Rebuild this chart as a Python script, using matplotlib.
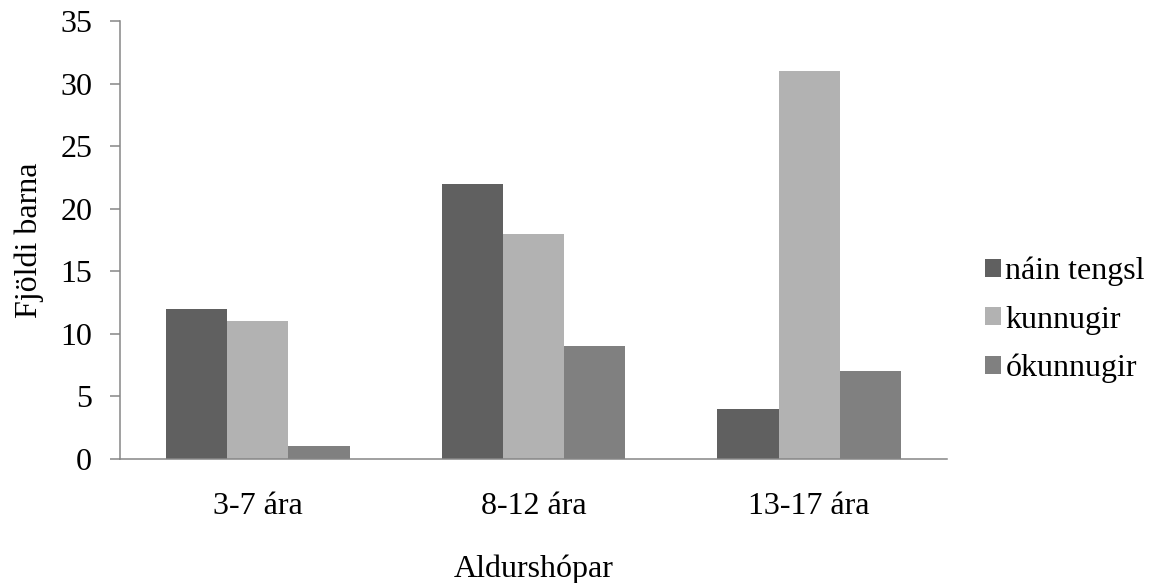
import matplotlib.pyplot as plt
import numpy as np

plt.rcParams['font.family'] = ['Liberation Serif', 'DejaVu Serif']

groups = ['3-7 ára', '8-12 ára', '13-17 ára']
series_names = ['náin tengsl', 'kunnugir', 'ókunnugir']
nain_tengsl = [12, 22, 4]
kunnugir = [11, 18, 31]
okunnugir = [1, 9, 7]
colors = ['#606060', '#b2b2b2', '#808080']

fig = plt.figure(figsize=(11.56, 5.83), dpi=100)
ax = fig.add_axes([0.1038, 0.2127, 0.7154, 0.7513])

x = np.arange(len(groups))
w = 0.222
for i, (vals, name) in enumerate(zip([nain_tengsl, kunnugir, okunnugir], series_names)):
    ax.bar(x + (i - 1) * w, vals, w, color=colors[i], label=name)

ax.set_xlim(-0.5, 2.5)
ax.set_ylim(0, 35)
ax.set_yticks(np.arange(0, 36, 5))
ax.set_xticks(x)
ax.set_xticklabels(groups)

ax.spines['right'].set_color('none')
ax.spines['top'].set_color('none')
ax.spines['left'].set_color('#868686')
ax.spines['bottom'].set_color('#868686')
ax.spines['left'].set_linewidth(1.1)
ax.spines['bottom'].set_linewidth(1.1)
ax.tick_params(axis='y', direction='out', length=7, width=1.1, color='#868686', labelsize=23, pad=13)
ax.tick_params(axis='x', length=0, labelsize=23, pad=24)

ax.set_xlabel('Aldurshópar', fontsize=23, labelpad=24)
ax.set_ylabel('Fjöldi barna', fontsize=23, labelpad=12)

ax.legend(loc='center left', bbox_to_anchor=(0.838, 0.451), bbox_transform=fig.transFigure,
          frameon=False, fontsize=23, handlelength=0.5, handleheight=0.5,
          handletextpad=0.15, labelspacing=0.6, borderpad=0)

fig.savefig('out.png', dpi=100)
